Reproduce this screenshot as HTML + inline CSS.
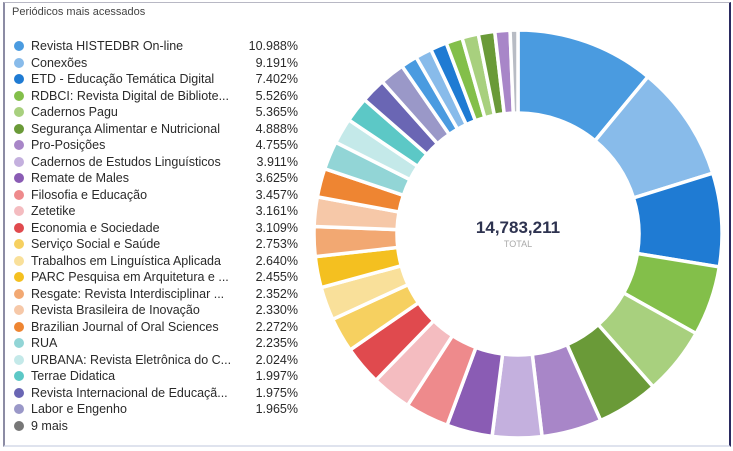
<!DOCTYPE html>
<html><head><meta charset="utf-8"><style>
html,body{margin:0;padding:0;background:#fff;}
body{width:733px;height:451px;overflow:hidden;position:relative;font-family:"Liberation Sans","DejaVu Sans",sans-serif;}
.frame{position:absolute;left:3px;top:2px;width:724px;height:442px;border-left:2px solid #8c8ca4;border-top:1px solid #b8b8c4;border-right:2px solid #2a2a60;border-bottom:2px solid #dfe3ee;}
.title{position:absolute;left:12px;top:6px;font-size:11px;color:#444;}
.row{position:absolute;left:14px;width:284px;height:16px;font-size:12.5px;color:#2a2a2a;line-height:16px;}
.row i{position:absolute;left:0;top:3px;width:10px;height:10px;border-radius:50%;}
.row span.n{position:absolute;left:17px;white-space:nowrap;}
.row span.v{position:absolute;right:0;}
.c1{position:absolute;left:418px;top:218px;width:200px;text-align:center;font-size:17px;color:#2e3350;font-weight:bold;}
.c2{position:absolute;left:418px;top:239px;width:200px;text-align:center;font-size:9px;color:#aaa;}
</style></head><body>
<div class="frame"></div>
<div class="title">Periódicos mais acessados</div>
<div id="legend"></div>
<svg id="d" width="733" height="451" style="position:absolute;left:0;top:0"></svg>
<div class="c1">14,783,211</div>
<div class="c2">TOTAL</div>
<script>
var items=[
["Revista HISTEDBR On-line",10.988,"#4a9be0"],
["Conexões",9.191,"#88bbea"],
["ETD - Educação Temática Digital",7.402,"#1f7bd3"],
["RDBCI: Revista Digital de Bibliote...",5.526,"#83bf4a"],
["Cadernos Pagu",5.365,"#a8d07e"],
["Segurança Alimentar e Nutricional",4.888,"#6a9a38"],
["Pro-Posições",4.755,"#a886c8"],
["Cadernos de Estudos Linguísticos",3.911,"#c4b0de"],
["Remate de Males",3.625,"#8a5cb4"],
["Filosofia e Educação",3.457,"#ee8a8c"],
["Zetetike",3.161,"#f4bcc0"],
["Economia e Sociedade",3.109,"#e04a4e"],
["Serviço Social e Saúde",2.753,"#f6d060"],
["Trabalhos em Linguística Aplicada",2.640,"#f9e09a"],
["PARC Pesquisa em Arquitetura e ...",2.455,"#f4c020"],
["Resgate: Revista Interdisciplinar ...",2.352,"#f2a872"],
["Revista Brasileira de Inovação",2.330,"#f6c8a8"],
["Brazilian Journal of Oral Sciences",2.272,"#ee8532"],
["RUA",2.235,"#92d5d6"],
["URBANA: Revista Eletrônica do C...",2.024,"#c4e9e9"],
["Terrae Didatica",1.997,"#5cc8c6"],
["Revista Internacional de Educaçã...",1.975,"#6a66b4"],
["Labor e Engenho",1.965,"#9a98c8"],
["9 mais",null,"#777"]];
var L=document.getElementById('legend'),h='';
items.forEach(function(it,i){
 h+='<div class="row" style="top:'+(38+i*16.52)+'px"><i style="background:'+it[2]+'"></i><span class="n">'+it[0]+'</span>'+(it[1]!=null?'<span class="v">'+it[1].toFixed(3)+'%</span>':'')+'</div>';
});
L.innerHTML=h;
var segs=items.slice(0,23).map(function(x){return [x[1],x[2]];});
var extra=[["#4a9be0",1.3],["#88bbea",1.3],["#1f7bd3",1.3],["#83bf4a",1.3],["#a8d07e",1.3],["#6a9a38",1.3],["#a886c8",1.2],["#b8bcc4",0.62]];
extra.forEach(function(e){segs.push([e[1],e[0]]);});
var tot=0;segs.forEach(function(s){tot+=s[0];});
var cx=518,cy=234,R=204,r=121,a=0,s='';
function p(rad,ang){return (cx+rad*Math.sin(ang)).toFixed(2)+' '+(cy-rad*Math.cos(ang)).toFixed(2);}
segs.forEach(function(sg){
 var a0=a,a1=a+sg[0]/tot*2*Math.PI;a=a1;
 var lg=(a1-a0)>Math.PI?1:0;
 s+='<path d="M'+p(R,a0)+' A'+R+' '+R+' 0 '+lg+' 1 '+p(R,a1)+' L'+p(r,a1)+' A'+r+' '+r+' 0 '+lg+' 0 '+p(r,a0)+'Z" fill="'+sg[1]+'" stroke="#fff" stroke-width="3.5"/>';
});
document.getElementById('d').innerHTML=s;
</script>
</body></html>
